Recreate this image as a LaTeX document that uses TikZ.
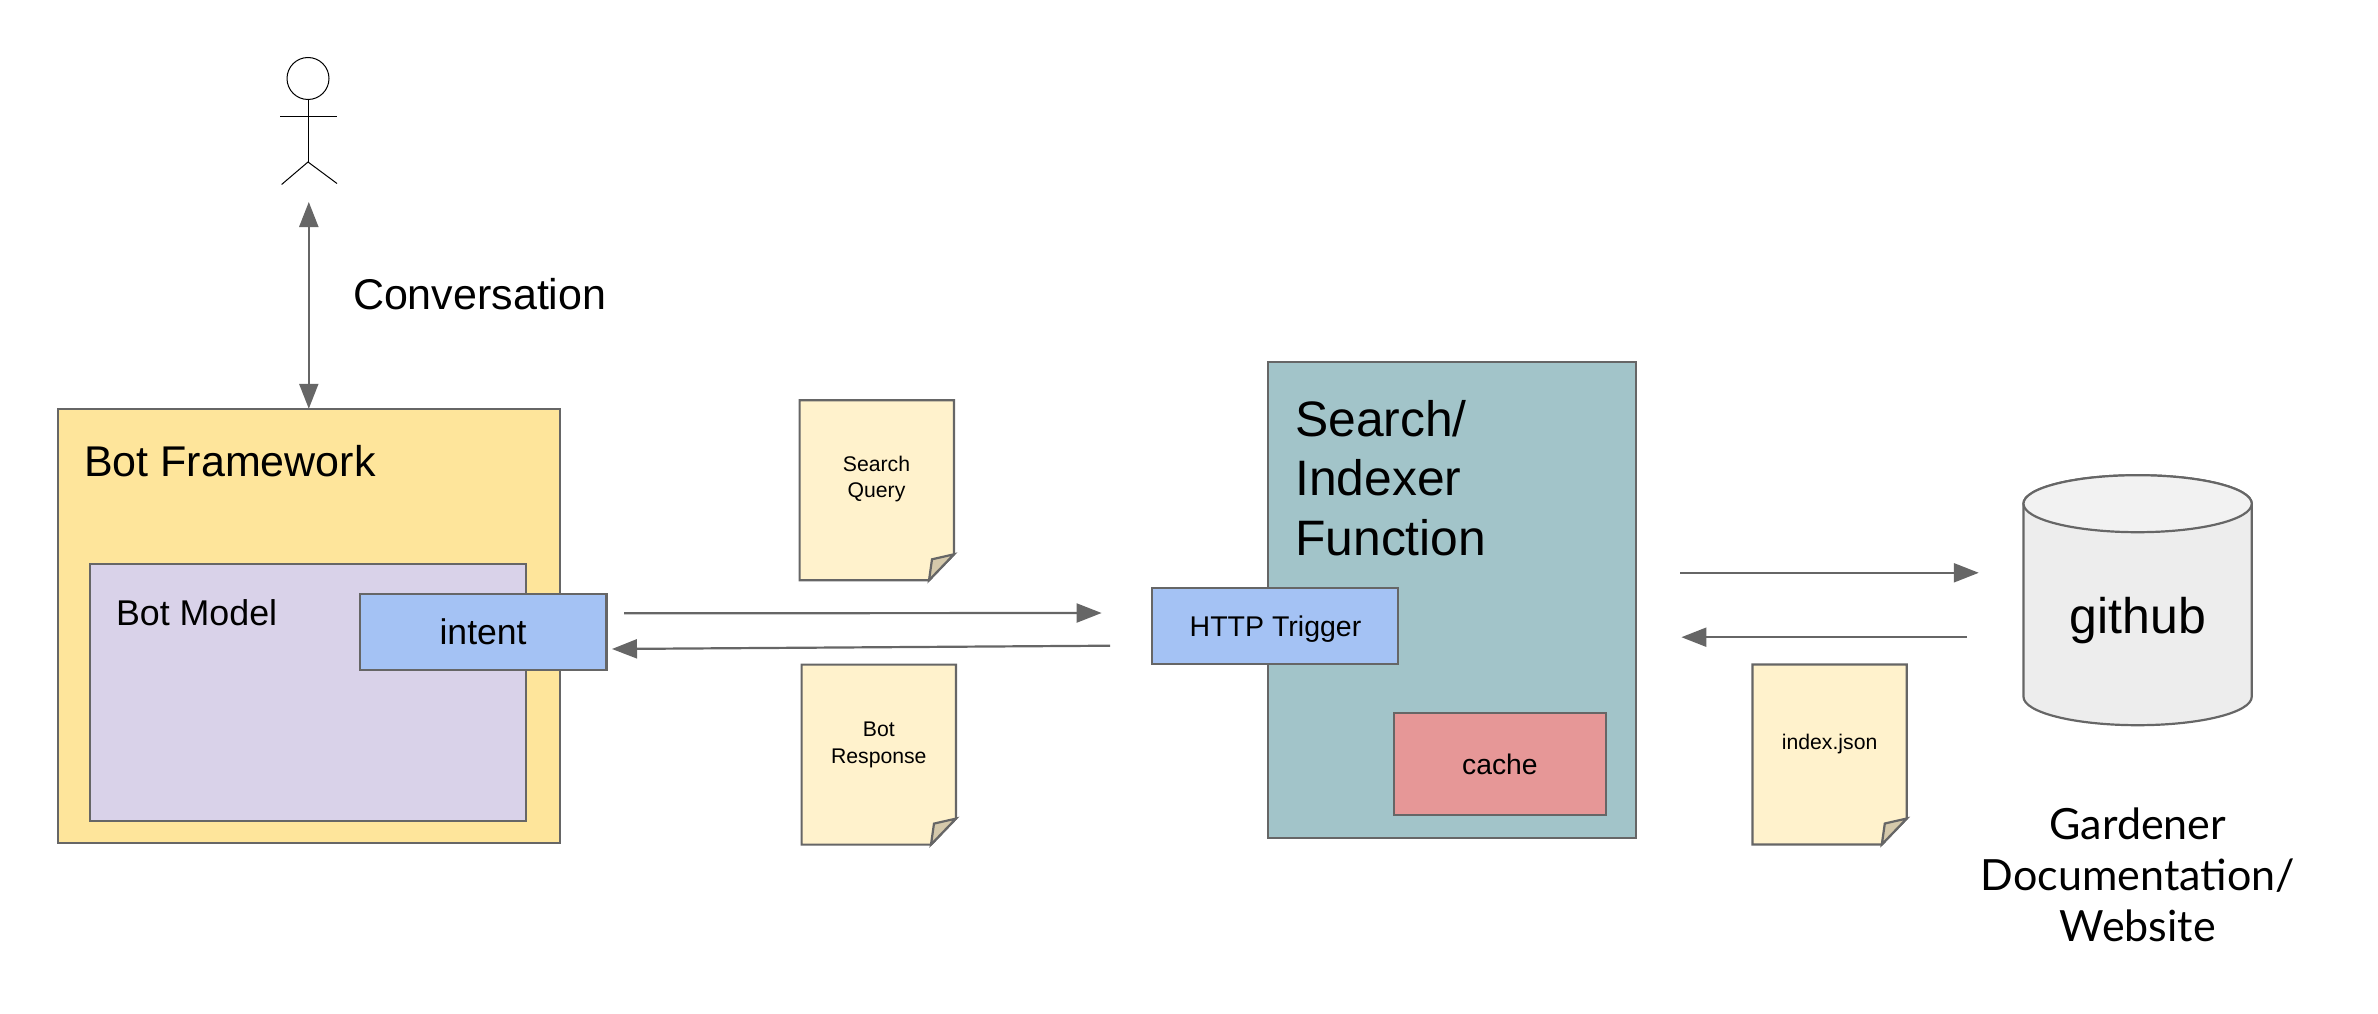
\documentclass[tikz,border=0pt]{standalone}
\usepackage{fontspec}
\setmainfont{Liberation Sans}
\newfontfamily\latofont{Lato}
\usetikzlibrary{arrows.meta}
\definecolor{edgegray}{HTML}{666666}
\definecolor{frameworkfill}{HTML}{FEE59B}
\definecolor{modelfill}{HTML}{D9D2E9}
\definecolor{triggerfill}{HTML}{A4C2F4}
\definecolor{searchfill}{HTML}{A2C4C9}
\definecolor{cachefill}{HTML}{E69797}
\definecolor{pagefill}{HTML}{FFF2CC}
\definecolor{foldfill}{HTML}{D5C9AB}
\tikzset{
  box/.style = {rectangle, draw=edgegray, line width=2.2pt, inner sep=0pt, outer sep=0pt},
  pagebox/.style = {rectangle, inner sep=0pt, outer sep=0pt, minimum width=154.4pt, minimum height=180pt},
  label/.style = {inner sep=0pt, outer sep=0pt, anchor=base west, black},
  clabel/.style = {label, anchor=base, align=center},
  flow/.style = {-{Triangle[length=25pt,width=19pt]}, draw=edgegray, line width=2.2pt},
  actorline/.style = {draw=black, line width=1pt},
  tank/.style = {draw=edgegray, line width=2.2pt},
}
\newcommand{\fs}[1]{\fontsize{#1}{#1}\selectfont}
% page with a folded corner, drawn round a named node
\newcommand{\docpage}[1]{
  \draw[fill=pagefill, draw=edgegray, line width=2.2pt] (#1.north west) -- (#1.north east)
    -- ([yshift=26pt]#1.south east) -- ([xshift=-25pt]#1.south east) -- (#1.south west) -- cycle;
  \draw[fill=foldfill, draw=edgegray, line width=2.2pt] ([yshift=26pt]#1.south east)
    -- ([xshift=-22pt,yshift=21pt]#1.south east) -- ([xshift=-25pt]#1.south east) -- cycle;
}

\begin{document}
\begin{tikzpicture}[x=1pt,y=-1pt]
\useasboundingbox (0,-1) rectangle (2378,1013);

% user
\node [circle, actorline, minimum size=42pt, inner sep=0pt] (head) at (308,77.5) {};
\coordinate (hip) at (308,161);
\coordinate (armleft) at (280,116);
\coordinate (armright) at (337,116);
\coordinate (legleft) at (281.6,183.5);
\coordinate (legright) at (337,182.5);
\draw [actorline] (head.south) -- (hip);
\draw [actorline] (armleft) -- (armright);
\draw [actorline] (legleft) -- (hip) -- (legright);

% bot side
\node [box, fill=frameworkfill, minimum width=502.4pt, minimum height=434.5pt] (framework) at (308.8,625) {};
\node [box, fill=modelfill, minimum width=436.7pt, minimum height=256.7pt] (model) at (308,691.3) {};
\node [box, fill=triggerfill, minimum width=246.4pt, minimum height=76.6pt] (intent) at (483.3,631) {};
\node [label, font=\fs{43}] (frameworklabel) at (84.2,475.7) {Bot Framework};
\node [label, font=\fs{35.8}] (modellabel) at (116,624) {Bot Model};
\node [clabel, font=\fs{35.6}] (intentlabel) at (483.1,643.7) {intent};

\node [label, font=\fs{43}] (conversation) at (353,308.5) {Conversation};
\coordinate (userend) at (308.8,201);
\draw [flow, {Triangle[length=25pt,width=19pt]}-{Triangle[length=25pt,width=19pt]}] (userend) -- (framework.north);

% documents in the middle
\node [pagebox] (query) at (876.8,489.3) {};
\docpage{query}
\node [clabel, font=\fontsize{21.2}{26.7}\selectfont] (querylabel) at (876.5,496.7) {Search\\Query};
\node [pagebox] (response) at (878.8,753.6) {};
\docpage{response}
\node [clabel, font=\fontsize{21.2}{26.7}\selectfont] (responselabel) at (878.8,762) {Bot\\Response};

% search function
\node [box, fill=searchfill, minimum width=368pt, minimum height=476.3pt] (search) at (1452,599.1) {};
\node [box, fill=cachefill, minimum width=212.2pt, minimum height=102pt] (cache) at (1499.9,763) {};
\node [box, fill=triggerfill, minimum width=246.4pt, minimum height=76pt] (http) at (1275.1,625.3) {};
\node [label, align=left, font=\fontsize{49.8}{59.5}\selectfont] (searchlabel) at (1295.2,554) {Search/\\Indexer\\Function};
\node [clabel, font=\fs{28.3}] (cachelabel) at (1499.9,773) {cache};
\node [clabel, font=\fs{28.5}] (httplabel) at (1275.5,635) {HTTP Trigger};

\coordinate (querystart) at (624,612.3);
\coordinate (queryend) at (1101.6,612);
\coordinate (replystart) at (1110,644.7);
\coordinate (replyend) at (612,648);
\draw [flow] (querystart) -- (queryend);
\draw [flow] (replystart) -- (replyend);

% github side
\node [rectangle, inner sep=0pt, outer sep=0pt, minimum width=228.3pt, minimum height=250pt] (github) at (2137.6,599.2) {};
\draw [tank, fill=black!7] ([yshift=-28.5pt]github.north west)
  -- ([yshift=28.5pt]github.south west) arc[start angle=180, end angle=360, x radius=114.15pt, y radius=28.5pt]
  -- ([yshift=-28.5pt]github.north east) arc[start angle=0, end angle=180, x radius=114.15pt, y radius=28.5pt] -- cycle;
\draw [tank, fill=black!5] ([yshift=-28.5pt]github.north) ellipse [x radius=114.15pt, y radius=28.5pt];
\node [clabel, font=\fs{50}] (githublabel) at (2138,632) {github};
\node [pagebox] (index) at (1829.6,753.5) {};
\docpage{index}
\node [clabel, font=\fs{21.2}] (indexlabel) at (1829.6,748) {index.json};
\node [clabel, font=\fontsize{43}{51}\latofont\selectfont] (gardener) at (2137.8,940) {Gardener\\Documentation/\\Website};

\coordinate (fetchstart) at (1680,571.8);
\coordinate (fetchend) at (1978.8,571.8);
\coordinate (pullstart) at (1967,636.2);
\coordinate (pullend) at (1681.4,636.2);
\draw [flow] (fetchstart) -- (fetchend);
\draw [flow] (pullstart) -- (pullend);
\end{tikzpicture}
\end{document}
